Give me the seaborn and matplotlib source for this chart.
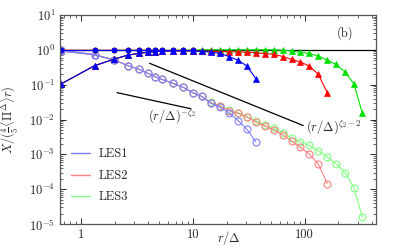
import numpy as np
import matplotlib
matplotlib.use('Agg')
import matplotlib.pyplot as plt
import matplotlib.ticker as mticker
from matplotlib.lines import Line2D
import seaborn as sns

# separation r/Delta (shared grid of the three runs)
r_grid = [0.66, 1.32, 1.98, 2.64, 3.3, 3.96, 4.62, 5.28, 6.7, 8.2, 10, 12, 14.5, 17.5,
          21, 25.5, 30.5, 36.5, 44, 53, 64, 76.5, 91, 110, 132, 159, 190, 229, 276, 327]

# total (filled circles)
tot_les1 = [1.0, 1.0, 1.0, 1.0, 1.0, 1.0, 1.0, 1.0, 1.0, 1.0, 1.0]
tot_les2 = [0.97, 0.97, 0.97, 0.97, 0.97, 0.97, 0.96, 0.96, 0.96, 0.96, 0.96]
tot_les3 = [1.0, 1.0, 1.0, 1.0, 1.0, 1.0, 1.0, 1.0, 1.0, 1.0, 1.0]

# resolved part (filled triangles)
res_les1 = [0.104, 0.35, 0.54, 0.71, 0.79, 0.85, 0.88, 0.92, 0.93, 0.94, 0.93, 0.90,
            0.86, 0.79, 0.64, 0.50, 0.34, 0.15]
res_les2 = [0.104, 0.35, 0.54, 0.71, 0.79, 0.85, 0.88, 0.92, 0.92, 0.92, 0.92, 0.91,
            0.90, 0.89, 0.88, 0.87, 0.85, 0.83, 0.78, 0.74, 0.64, 0.53, 0.45, 0.34,
            0.20, 0.059]
res_les3 = [0.104, 0.35, 0.54, 0.71, 0.79, 0.85, 0.88, 0.92, 0.95, 0.97, 0.98, 1.0,
            1.0, 1.0, 1.0, 1.0, 1.0, 1.0, 1.0, 1.0, 0.97, 0.93, 0.85, 0.79, 0.66,
            0.51, 0.38, 0.235, 0.104, 0.0155]

# subgrid part (open circles)
sgs_les1 = [1.0, 0.72, 0.51, 0.35, 0.276, 0.211, 0.169, 0.142, 0.108, 0.084, 0.059,
            0.046, 0.029, 0.0223, 0.0157, 0.0092, 0.0052, 0.0023]
sgs_les2 = [1.0, 0.72, 0.51, 0.35, 0.276, 0.211, 0.169, 0.142, 0.108, 0.084, 0.059,
            0.046, 0.030, 0.0244, 0.0178, 0.0150, 0.0116, 0.0086, 0.0065, 0.0050,
            0.0036, 0.0024, 0.0016, 0.00102, 0.00053, 0.000146]
sgs_les3 = [1.0, 0.72, 0.51, 0.35, 0.276, 0.211, 0.169, 0.142, 0.108, 0.084, 0.059,
            0.046, 0.031, 0.025, 0.0185, 0.0155, 0.012, 0.0092, 0.0069, 0.0056,
            0.0042, 0.0029, 0.0023, 0.0018, 0.00127, 0.00084, 0.00054, 0.00030,
            0.000110, 0.0000161]

# open triangles at the smallest separations
ot_les = [0.92, 0.72, 0.51]

labels = ['LES1', 'LES2', 'LES3']
dark = ['#0000ff', '#ff0000', '#00e000']
light = ['#8080ff', '#ff8080', '#80ff80']

zeta2 = 0.7
guide1_r = [2.1, 9.6]
guide1_c = 0.059
guide2_r = [4.1, 97]
guide2_c = 0.41

sns.set_style('ticks')
plt.rcParams['font.family'] = ['cmr10', 'DejaVu Serif']
plt.rcParams['mathtext.fontset'] = 'cm'
plt.rcParams['axes.formatter.use_mathtext'] = True
plt.rcParams['font.size'] = 9

fig = plt.figure(figsize=(3.98, 2.49), dpi=100)
ax = fig.add_axes([0.151, 0.100, 0.794, 0.840])
ax.set_xscale('log')
ax.set_yscale('log')

tot = [tot_les1, tot_les2, tot_les3]
res = [res_les1, res_les2, res_les3]
sgs = [sgs_les1, sgs_les2, sgs_les3]

for i in [2, 1, 0]:
    sns.lineplot(x=r_grid[:len(sgs[i])], y=sgs[i], ax=ax, color=light[i], lw=0.8,
                 marker='o', markersize=5, mfc='none', mec=light[i], mew=0.8)
    sns.lineplot(x=r_grid[:len(ot_les)], y=ot_les, ax=ax, color=light[i], lw=0.8,
                 marker='^', markersize=4.5, mfc='none', mec=light[i], mew=0.8)

ax.axhline(1.0, color='black', lw=0.9, zorder=1)

for i in [2, 1, 0]:
    sns.lineplot(x=r_grid[:len(res[i])], y=res[i], ax=ax, color=dark[i], lw=0.8,
                 marker='^', markersize=4.2, mfc=dark[i], mec=dark[i], mew=0.5)
    sns.lineplot(x=r_grid[:len(tot[i])], y=tot[i], ax=ax, color=dark[i], lw=0.8,
                 marker='o', markersize=3.6, mfc=dark[i], mec=dark[i], mew=0.5)

# reference slopes
g1 = np.array(guide1_r)
ax.plot(g1, guide1_c * (g1 / g1[0]) ** (-zeta2), color='black', lw=0.9)
g2 = np.array(guide2_r)
ax.plot(g2, guide2_c * (g2 / g2[0]) ** (zeta2 - 2), color='black', lw=0.9)
ax.text(4.0, 0.0125, r'$(r/\Delta)^{-\zeta_2}$', ha='left', va='center', fontsize=9)
ax.text(103, 0.0062, r'$(r/\Delta)^{\zeta_2-2}$', ha='left', va='center', fontsize=9)
ax.text(230, 3.0, '(b)', ha='center', va='center', fontsize=9)

ax.set_xlim(0.65, 435)
ax.set_ylim(1e-5, 1e1)
ax.xaxis.set_major_formatter(mticker.FuncFormatter(lambda v, _: f'{v:g}'))
ax.tick_params(which='both', direction='in', top=True, right=True, labelsize=9)
ax.tick_params(which='major', length=4, width=0.7)
ax.tick_params(which='minor', length=2, width=0.5)
for s in ax.spines.values():
    s.set_color('#555555')
    s.set_linewidth(0.9)

ax.set_xlabel(r'$r/\Delta$', fontsize=9)
ax.xaxis.set_label_coords(0.535, -0.025)
ax.set_ylabel(r'$X/(\frac{4}{5}\langle\Pi^{\Delta}\rangle r)$', fontsize=9)
ax.yaxis.set_label_coords(-0.125, 0.5)

handles = [Line2D([], [], color=light[i], lw=1.0) for i in range(3)]
ax.legend(handles, labels, loc='lower left', bbox_to_anchor=(0.0, 0.045), frameon=False,
          labelspacing=0.75, handlelength=1.5, handletextpad=0.7, fontsize=9)

fig.savefig('out.png', dpi=100)
